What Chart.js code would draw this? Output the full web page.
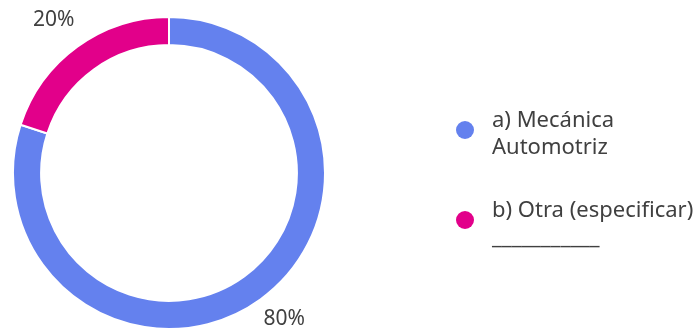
<!DOCTYPE html>
<html>
<head>
<meta charset="utf-8">
<script src="https://cdn.jsdelivr.net/npm/chart.js@4"></script>
<style>
  html, body { margin: 0; padding: 0; background: #fff; }
  #wrap { width: 700px; height: 330px; }
</style>
</head>
<body>
<div id="wrap"><canvas id="myChart"></canvas></div>
<script>
// respuestas - carrera
const labels = [['a) Mecánica', 'Automotriz'], ['b) Otra (especificar)', '___________']];
const values = [80, 20];
const colors = ['#6481ee', '#e2008a'];

const FONT = '"Segoe UI", "Noto Sans", sans-serif';
const TEXT_COLOR = '#404040';

// percentage labels outside the ring
const outsideLabels = {
  id: 'outsideLabels',
  afterDatasetsDraw(chart) {
    const ctx = chart.ctx;
    const meta = chart.getDatasetMeta(0);
    const total = values.reduce((a, b) => a + b, 0);
    ctx.save();
    ctx.font = '21px ' + FONT;
    ctx.fillStyle = TEXT_COLOR;
    ctx.textAlign = 'center';
    ctx.textBaseline = 'middle';
    meta.data.forEach((arc, i) => {
      const p = arc.getProps(['x', 'y', 'startAngle', 'endAngle', 'outerRadius'], true);
      const mid = (p.startAngle + p.endAngle) / 2;
      const r = p.outerRadius + 40;
      let x = p.x + Math.cos(mid) * r;
      let y = p.y + Math.sin(mid) * r;
      y = Math.min(Math.max(y, 20), chart.height - 11);
      ctx.fillText(Math.round(values[i] / total * 100) + '%', x, y);
    });
    ctx.restore();
  }
};

// legend on the right, multi-line labels
const sideLegend = {
  id: 'sideLegend',
  afterDraw(chart) {
    const ctx = chart.ctx;
    const dotX = 465;
    const textX = 492;
    const lineH = 27;
    let y = 127; // baseline of first line
    ctx.save();
    ctx.font = '22px ' + FONT;
    ctx.textBaseline = 'alphabetic';
    chart.data.labels.forEach((lab, i) => {
      ctx.fillStyle = chart.data.datasets[0].backgroundColor[i];
      ctx.beginPath();
      ctx.arc(dotX, y + 3, 9, 0, Math.PI * 2);
      ctx.fill();
      ctx.fillStyle = TEXT_COLOR;
      lab.forEach((line, j) => ctx.fillText(line, textX, y + j * lineH));
      y += 90;
    });
    ctx.restore();
  }
};

var ctx = document.getElementById('myChart').getContext('2d');
var myChart = new Chart(ctx, {
  type: 'doughnut',
  data: {
    labels: labels,
    datasets: [{
      data: values,
      backgroundColor: colors,
      borderColor: '#ffffff',
      borderWidth: 2
    }]
  },
  options: {
    responsive: true,
    maintainAspectRatio: false,
    animation: false,
    cutout: '82%',
    layout: {
      padding: { left: 0, right: 362, top: 16, bottom: 0 }
    },
    plugins: {
      legend: { display: false },
      tooltip: { enabled: false }
    }
  },
  plugins: [outsideLabels, sideLegend]
});
</script>
</body>
</html>
